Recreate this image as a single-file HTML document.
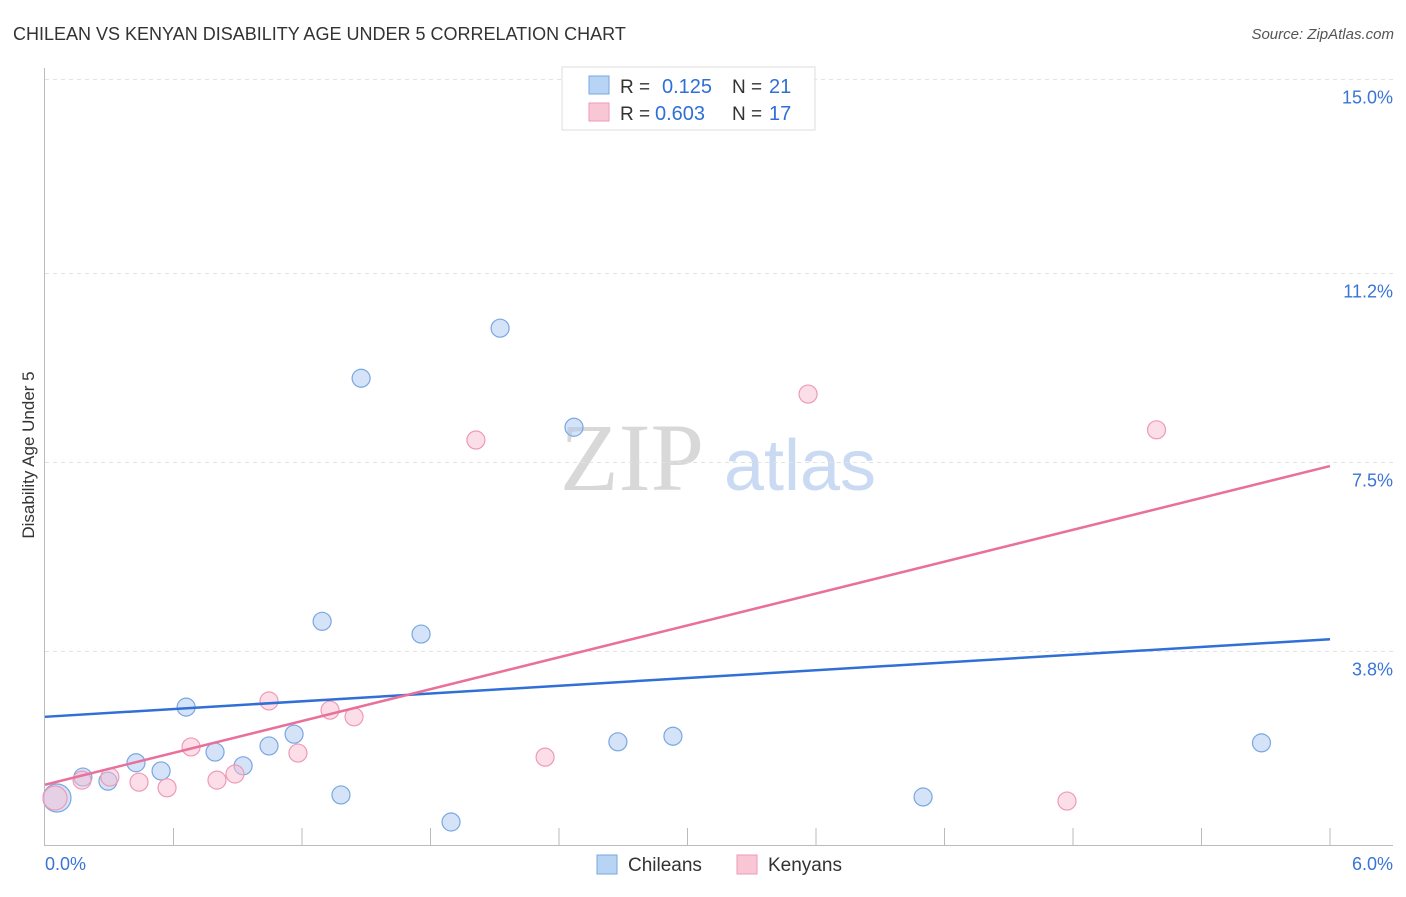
<!DOCTYPE html>
<html><head><meta charset="utf-8"><style>
body{margin:0;background:#fff;font-family:"Liberation Sans",sans-serif;}
</style></head><body>
<svg width="1406" height="892" xmlns="http://www.w3.org/2000/svg" id="chart">
<text x="13" y="40" font-size="18" fill="#333">CHILEAN VS KENYAN DISABILITY AGE UNDER 5 CORRELATION CHART</text>
<text x="1394" y="39" font-size="15" fill="#555" font-style="italic" text-anchor="end">Source: ZipAtlas.com</text>
<text x="632" y="490" font-size="96" fill="#d8d8d8" font-family="Liberation Serif,serif" text-anchor="middle">ZIP</text>
<text x="800" y="490" font-size="72" fill="#c9daf2" text-anchor="middle">atlas</text>
<text transform="translate(34,455) rotate(-90)" font-size="17" fill="#333" text-anchor="middle">Disability Age Under 5</text>
<g id="grid"></g><g id="axes"></g><g id="marks"></g>
<g>
<rect x="562" y="67" width="253" height="63" fill="#fff" stroke="#ddd"/>
<rect x="589" y="76" width="20" height="18" fill="#b8d4f5" stroke="#7aa7e0"/>
<rect x="589" y="103" width="20" height="18" fill="#f9c6d6" stroke="#ef9ab5"/>
<text x="620" y="93" font-size="19" fill="#333">R =</text>
<text x="662" y="93" font-size="20" fill="#2f6fd6">0.125</text>
<text x="732" y="93" font-size="19" fill="#333">N =</text>
<text x="769" y="93" font-size="20" fill="#2f6fd6">21</text>
<text x="620" y="120" font-size="19" fill="#333">R =</text>
<text x="655" y="120" font-size="20" fill="#2f6fd6">0.603</text>
<text x="732" y="120" font-size="19" fill="#333">N =</text>
<text x="769" y="120" font-size="20" fill="#2f6fd6">17</text>
</g>
<g>
<rect x="597" y="855" width="20" height="19" fill="#b8d4f5" stroke="#7aa7e0"/>
<text x="628" y="871" font-size="19" fill="#333">Chileans</text>
<rect x="737" y="855" width="20" height="19" fill="#f9c6d6" stroke="#ef9ab5"/>
<text x="768" y="871" font-size="19" fill="#333">Kenyans</text>
</g>
</svg>
<script>
const yTicks=[3.8,7.5,11.2,15.0];
const yTickLabels=["3.8%","7.5%","11.2%","15.0%"];
const xTickLabels=["0.0%","6.0%"];
const chileX=[0.056,0.177,0.294,0.425,0.542,0.659,0.794,0.925,1.046,1.163,1.294,1.382,1.476,1.756,1.896,2.125,2.47,2.675,2.932,4.10,5.68];
const chileY=[0.93,1.34,1.26,1.62,1.46,2.71,1.83,1.56,1.95,2.18,4.39,0.99,9.15,4.14,0.46,10.13,8.19,2.03,2.14,0.95,2.01];
const chileR=[14,9,9,9,9,9,9,9,9,9,9,9,9,9,9,9,9,9,9,9,9];
const kenyaX=[0.047,0.173,0.303,0.439,0.57,0.682,0.803,0.887,1.046,1.181,1.331,1.443,2.012,2.335,3.563,4.772,5.19];
const kenyaY=[0.93,1.28,1.34,1.24,1.13,1.93,1.28,1.40,2.83,1.81,2.65,2.52,7.94,1.73,8.84,0.87,8.14];
const kenyaR=[12,9,9,9,9,9,9,9,9,9,9,9,9,9,9,9,9];
const chileTrend=[2.52,4.04];
const kenyaTrend=[1.19,7.43];
const xs=v=>45+v*1285/6, ys=v=>845.5-v*191.5/3.75;
const NS="http://www.w3.org/2000/svg";
function mk(tag,attrs,parent){const e=document.createElementNS(NS,tag);for(const k in attrs)e.setAttribute(k,attrs[k]);document.getElementById(parent).appendChild(e);return e;}
yTicks.forEach((t,i)=>{
 const l=mk('line',{x1:45,x2:1393,y1:ys(t),y2:ys(t),stroke:'#e2e2e2','stroke-dasharray':'4,4'},'grid');
 
 
 const tx=mk('text',{x:1393,y:ys(t)+24,'font-size':18,fill:'#3a74d6','text-anchor':'end'},'grid');
 tx.textContent=yTickLabels[i];
 
 
});
let a=mk('line',{x1:44.5,x2:44.5,y1:68,y2:846,stroke:'#bbb'},'axes');


a=mk('line',{x1:44,x2:1393,y1:845.5,y2:845.5,stroke:'#bbb'},'axes');


for(let i=1;i<=10;i++){const x=45+i*128.5;const t=mk('line',{x1:x,x2:x,y1:828,y2:845,stroke:'#bbb'},'axes');
 
 }
[[0,'start',45],[6,'end',1393]].forEach((d,i)=>{const t=mk('text',{x:d[2],y:870,'font-size':18,fill:'#3a74d6','text-anchor':d[1]},'axes');t.textContent=xTickLabels[i];
 
 });
chileX.forEach((v,i)=>{const c=mk('circle',{cx:xs(v),cy:ys(chileY[i]),r:chileR[i],fill:'rgba(170,200,242,0.5)',stroke:'#7aa7e0','stroke-width':1.2},'marks');
 
 });
kenyaX.forEach((v,i)=>{const c=mk('circle',{cx:xs(v),cy:ys(kenyaY[i]),r:kenyaR[i],fill:'rgba(248,190,210,0.5)',stroke:'#ef9ab5','stroke-width':1.2},'marks');
 
 });
let t=mk('line',{x1:xs(0),x2:xs(6),y1:ys(chileTrend[0]),y2:ys(chileTrend[1]),stroke:'#2f6fd6','stroke-width':2.5},'marks');


t=mk('line',{x1:xs(0),x2:xs(6),y1:ys(kenyaTrend[0]),y2:ys(kenyaTrend[1]),stroke:'#e8709a','stroke-width':2.5},'marks');


</script>
</body></html>
